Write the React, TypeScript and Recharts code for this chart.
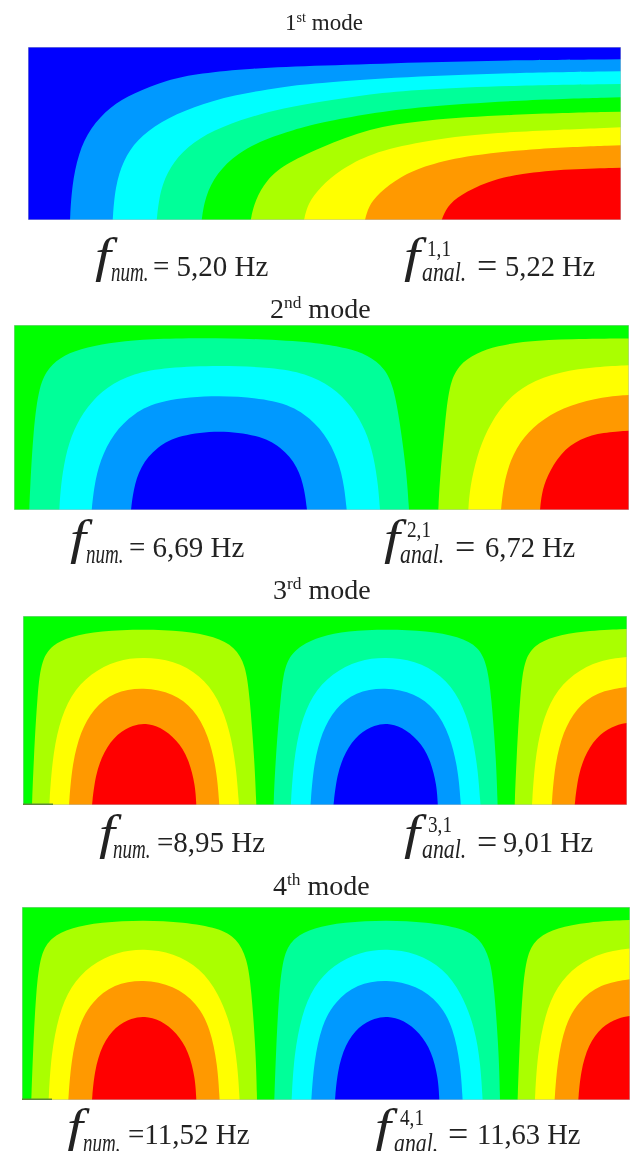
// App.tsx - first four vibration modes of a plate, drawn as filled contour bands

import React from 'react';
import { ComposedChart, Area, XAxis, YAxis, ReferenceArea } from 'recharts';

type Curve = [number, number][];

const BLUE = '#0000ff';
const SKY = '#0099ff';
const CYAN = '#00ffff';
const TEAL = '#00ff99';
const GREEN = '#00ff00';
const LIME = '#aaff00';
const YELLOW = '#ffff00';
const ORANGE = '#ff9900';
const RED = '#ff0000';

// Contour lines: [distance along plate, height above bottom edge]
const mode1Sky: Curve = [[42, 0], [43.7, 33.3], [50.3, 66.7], [62, 91.7], [82, 113.3], [105.3, 126.7], [138.7, 140], [172, 146.7], [222, 151.7], [292, 154.3], [392, 157.7], [492, 160], [593, 160.7]];
const mode1Cyan: Curve = [[84.7, 0], [87, 33], [95.3, 60], [108.7, 80], [132, 98.3], [165.3, 113.3], [205.3, 125], [255.3, 133.3], [292, 137.3], [392, 144], [492, 147.3], [593, 148.7]];
const mode1Teal: Curve = [[128.7, 0], [132, 30], [142, 53.3], [158.7, 73.3], [185.3, 90], [222, 103.3], [255.3, 111.7], [292, 118.3], [342, 126], [392, 130.7], [492, 134.7], [593, 136]];
const mode1Green: Curve = [[173.7, 0], [177, 23.3], [188.7, 46.7], [208.7, 66.7], [238.7, 81.7], [265.3, 90], [292, 97.3], [342, 106.7], [392, 113.3], [492, 120], [593, 122.7]];
const mode1Lime: Curve = [[222.7, 0], [227, 20], [238.7, 40], [255.3, 55], [292, 72.5], [342, 91.7], [392, 100], [492, 106], [593, 108.3]];
const mode1Yellow: Curve = [[276, 0], [280, 16.7], [292, 33], [312, 50], [342, 66.7], [392, 78.3], [458.7, 87.7], [593, 92.7]];
const mode1Orange: Curve = [[337, 0], [340.3, 13.3], [350.3, 26.7], [372, 43.3], [398.7, 55], [442, 65], [508.7, 71.7], [593, 74.7]];
const mode1Red: Curve = [[413.7, 0], [418.7, 13.3], [432, 25], [458.7, 38.3], [492, 46.7], [542, 51], [593, 52.3]];

const mode2Teal: Curve = [[15.3, 0], [16, 20], [19.3, 80], [25, 125], [35, 143], [49.3, 155], [72.7, 163], [102.7, 168], [136, 171], [186, 172], [252.7, 171], [306, 167], [332.7, 162], [354, 155], [371, 142], [380, 122], [386, 86.7], [392.7, 36.7], [395, 0]];
const mode2Cyan: Curve = [[45.3, 0], [46.7, 23.3], [51, 53.3], [59.3, 80], [72.7, 103.3], [92.7, 123.3], [119.3, 136.7], [152.7, 142.7], [205, 144.7], [258.3, 142.7], [291.7, 136.7], [318.3, 123.3], [338.3, 103.3], [351.7, 80], [360, 53.3], [364.3, 23.3], [366, 0]];
const mode2Sky: Curve = [[77.7, 0], [80, 23.3], [86, 50], [99.3, 76.7], [119.3, 96.7], [146, 110], [205, 115.5], [264, 110], [291, 96.7], [311, 76.7], [324.4, 50], [330.4, 23.3], [332.7, 0]];
const mode2Blue: Curve = [[117, 0], [119.3, 20], [126, 43.3], [142.7, 63.3], [166, 75], [205, 80], [244, 75], [267.3, 63.3], [284, 43.3], [290.7, 20], [293, 0]];
const mode2Lime: Curve = [[424.3, 0], [426, 33.3], [431, 86.7], [435, 124], [444, 145], [462.7, 157], [482.7, 164], [512.7, 169], [556, 171], [615, 171.5]];
const mode2Yellow: Curve = [[454.3, 0], [456, 23.3], [462.7, 53.3], [472.7, 80], [489.3, 106.7], [512.7, 126.7], [546, 138.3], [582.7, 143.3], [615, 144.7]];
const mode2Orange: Curve = [[487, 0], [489.3, 23.3], [496, 50], [509.3, 73.3], [529.3, 91.7], [556, 105], [589.3, 113.3], [615, 115]];
const mode2Red: Curve = [[526, 0], [527.7, 16.7], [532.7, 33.3], [546, 56.7], [566, 71.7], [589.3, 77.7], [615, 79.3]];

const mode3Lime: Curve = [[9, 0], [10.6, 43.3], [14.5, 113.3], [18.5, 145], [29, 160], [47.3, 168.5], [77.3, 174], [120.6, 176], [160.6, 174], [192, 168.5], [212, 158], [222.5, 140], [226.6, 110], [231.6, 43.3], [233.3, 0]];
const mode3Yellow: Curve = [[26.3, 0], [29, 43.3], [35.6, 80], [47.3, 110], [67.3, 131.7], [94, 145], [120.6, 148], [150.6, 144.5], [177.3, 130], [195.6, 106.7], [207.3, 73.3], [213.3, 36.7], [216, 0]];
const mode3Orange: Curve = [[46, 0], [49, 40], [57.3, 73.3], [70.6, 96.7], [90.6, 113.3], [120.6, 118], [150.6, 111.7], [170.6, 96.7], [185.6, 70], [194, 33.3], [196.3, 0]];
const mode3Red: Curve = [[69, 0], [72.3, 30], [80.6, 53.3], [94, 71.7], [110.6, 80], [122.3, 82], [137.3, 78.3], [154, 65], [165.6, 46.7], [172.3, 20], [173.3, 0]];
const mode3Teal: Curve = [[250.6, 0], [252.3, 43.3], [258, 113.3], [262.5, 145], [278, 160], [297.3, 168.5], [324, 174], [364, 176], [404, 174], [436, 168.5], [456, 158], [464, 140], [468.3, 110], [473.3, 43.3], [474.6, 0]];
const mode3Cyan: Curve = [[267.8, 0], [270.5, 43.3], [277.1, 80], [288.8, 110], [308.8, 131.7], [335.5, 145], [362.1, 148], [392.1, 144.5], [418.8, 130], [437.1, 106.7], [448.8, 73.3], [454.8, 36.7], [457.5, 0]];
const mode3Sky: Curve = [[287.5, 0], [290.5, 40], [298.8, 73.3], [312.1, 96.7], [332.1, 113.3], [362.1, 118], [392.1, 111.7], [412.1, 96.7], [427.1, 70], [435.5, 33.3], [437.8, 0]];
const mode3Blue: Curve = [[310.5, 0], [313.8, 30], [322.1, 53.3], [335.5, 71.7], [352.1, 80], [363.8, 82], [378.8, 78.3], [395.5, 65], [407.1, 46.7], [413.8, 20], [414.8, 0]];
const mode3LimeRight: Curve = [[491.7, 0], [493.3, 43.3], [497.3, 113.3], [501.3, 145], [511.5, 160], [530, 168.5], [560, 174], [604, 176]];
const mode3YellowRight: Curve = [[509, 0], [511.7, 43.3], [518.3, 80], [530, 110], [550, 131.7], [576.7, 145], [604, 148]];
const mode3OrangeRight: Curve = [[528.7, 0], [531.7, 40], [540, 73.3], [553.3, 96.7], [573.3, 113.3], [604, 118]];
const mode3RedRight: Curve = [[551.7, 0], [555, 30], [563.3, 53.3], [576.7, 71.7], [593.3, 80], [604, 82]];

const mode4Lime: Curve = [[9.3, 0], [11, 48.6], [14, 108.6], [18.5, 147], [29.5, 163], [48.3, 172], [78.3, 178], [121.6, 180], [161.6, 178], [197, 172], [215, 161.5], [225, 142], [229.3, 112], [234, 45.3], [235, 0]];
const mode4Yellow: Curve = [[26.6, 0], [29, 45.3], [36.6, 85.3], [48.3, 113.6], [68.3, 135.3], [95, 148], [121.6, 151.5], [151.6, 147], [178.3, 132], [196.6, 107], [210, 72], [215.6, 35.3], [217.6, 0]];
const mode4Orange: Curve = [[46.3, 0], [49, 38.6], [56.6, 75.3], [70, 98.6], [91.6, 116], [121.6, 120.8], [151.6, 114.6], [175, 97], [188.3, 72], [195.6, 35.3], [197.6, 0]];
const mode4Red: Curve = [[70, 0], [72.3, 28.6], [80, 55.3], [93.3, 73.6], [110, 82], [122.3, 84], [138.3, 80.3], [155, 67], [166.6, 48.6], [173.3, 22], [174.3, 0]];
const mode4Teal: Curve = [[252.3, 0], [254, 48.6], [257, 108.6], [261.5, 147], [272.5, 163], [291.3, 172], [321.3, 178], [364.6, 180], [404.6, 178], [440, 172], [458, 161.5], [468, 142], [472.3, 112], [477, 45.3], [478, 0]];
const mode4Cyan: Curve = [[269.6, 0], [272, 45.3], [279.6, 85.3], [291.3, 113.6], [311.3, 135.3], [338, 148], [364.6, 151.5], [394.6, 147], [421.3, 132], [439.6, 107], [453, 72], [458.6, 35.3], [460.6, 0]];
const mode4Sky: Curve = [[289.3, 0], [292, 38.6], [299.6, 75.3], [313, 98.6], [334.6, 116], [364.6, 120.8], [394.6, 114.6], [418, 97], [431.3, 72], [438.6, 35.3], [440.6, 0]];
const mode4Blue: Curve = [[313, 0], [315.3, 28.6], [323, 55.3], [336.3, 73.6], [353, 82], [365.3, 84], [381.3, 80.3], [398, 67], [409.6, 48.6], [416.3, 22], [417.3, 0]];
const mode4LimeRight: Curve = [[495.6, 0], [497.3, 48.6], [500.3, 108.6], [504.8, 147], [515.8, 163], [534.6, 172], [564.6, 178], [608, 180]];
const mode4YellowRight: Curve = [[512.9, 0], [515.3, 45.3], [522.9, 85.3], [534.6, 113.6], [554.6, 135.3], [581.3, 148], [608, 151.5]];
const mode4OrangeRight: Curve = [[532.6, 0], [535.3, 38.6], [542.9, 75.3], [556.3, 98.6], [577.9, 116], [608, 120.8]];
const mode4RedRight: Curve = [[556.3, 0], [558.6, 28.6], [566.3, 55.3], [579.6, 73.6], [596.3, 82], [608, 84]];

const modeOrdinals = ['1', '2', '3', '4'];
const modeSuffixes = ['st', 'nd', 'rd', 'th'];
const numericValues = ['= 5,20 Hz', '= 6,69 Hz', '=8,95 Hz', '=11,52 Hz'];
const analyticValues = ['5,22 Hz', '6,72 Hz', '9,01 Hz', '11,63 Hz'];
const analyticIndices = ['1,1', '2,1', '3,1', '4,1'];

// Painted in order, each band over the one before
const panels = [
  { left: 28, top: 47, width: 593, height: 173, base: BLUE, edgeMark: 0, bands: [[SKY, mode1Sky], [CYAN, mode1Cyan], [TEAL, mode1Teal], [GREEN, mode1Green], [LIME, mode1Lime], [YELLOW, mode1Yellow], [ORANGE, mode1Orange], [RED, mode1Red]] },
  { left: 14, top: 325, width: 615, height: 185, base: GREEN, edgeMark: 0, bands: [[TEAL, mode2Teal], [CYAN, mode2Cyan], [SKY, mode2Sky], [BLUE, mode2Blue], [LIME, mode2Lime], [YELLOW, mode2Yellow], [ORANGE, mode2Orange], [RED, mode2Red]] },
  { left: 23, top: 616, width: 604, height: 189, base: GREEN, edgeMark: 30, bands: [[LIME, mode3Lime], [YELLOW, mode3Yellow], [ORANGE, mode3Orange], [RED, mode3Red], [TEAL, mode3Teal], [CYAN, mode3Cyan], [SKY, mode3Sky], [BLUE, mode3Blue], [LIME, mode3LimeRight], [YELLOW, mode3YellowRight], [ORANGE, mode3OrangeRight], [RED, mode3RedRight]] },
  { left: 22, top: 907, width: 608, height: 193, base: GREEN, edgeMark: 30, bands: [[LIME, mode4Lime], [YELLOW, mode4Yellow], [ORANGE, mode4Orange], [RED, mode4Red], [TEAL, mode4Teal], [CYAN, mode4Cyan], [SKY, mode4Sky], [BLUE, mode4Blue], [LIME, mode4LimeRight], [YELLOW, mode4YellowRight], [ORANGE, mode4OrangeRight], [RED, mode4RedRight]] }
] as { left: number; top: number; width: number; height: number; base: string; edgeMark: number; bands: [string, Curve][] }[];

// Text placement on the page, one row per mode
const textRows = [
  { titleX: 285, titleY: 30, titleSize: 23, numF: 95, numSub: 111, numEq: 153, fY: 272, subY: 281, eqY: 276, anF: 404, anSup: 427, anSub: 422, supY: 256, anEq: 477, anVal: 505 },
  { titleX: 270, titleY: 318, titleSize: 28, numF: 70, numSub: 86, numEq: 129, fY: 554, subY: 563, eqY: 557, anF: 384, anSup: 407, anSub: 400, supY: 537, anEq: 455, anVal: 485 },
  { titleX: 273, titleY: 599, titleSize: 28, numF: 99, numSub: 113, numEq: 157, fY: 849, subY: 858, eqY: 852, anF: 404, anSup: 428, anSub: 422, supY: 832, anEq: 477, anVal: 503 },
  { titleX: 273, titleY: 895, titleSize: 28, numF: 67, numSub: 83, numEq: 128, fY: 1143, subY: 1152, eqY: 1144, anF: 375, anSup: 400, anSub: 394, supY: 1125, anEq: 448, anVal: 477 }
];

const SERIF = '"Liberation Serif", serif';
const INK = '#222222';

const ContourPanel = ({ left, top, width, height, base, edgeMark, bands }: (typeof panels)[number]) => (
  <div style={{ position: 'absolute', left, top, width, height }}>
    <ComposedChart width={width} height={height} margin={{ top: 0, right: 0, bottom: 0, left: 0 }}>
      <XAxis type="number" dataKey="x" domain={[0, width]} hide allowDataOverflow />
      <YAxis type="number" domain={[0, height]} hide allowDataOverflow />
      <ReferenceArea x1={0} x2={width} y1={0} y2={height} fill={base} fillOpacity={1} stroke="none" />
      {bands.map(([color, curve], i) => (
        <Area
          key={i}
          data={curve.map(([x, y]) => ({ x, y }))}
          dataKey="y"
          type="basis"
          fill={color}
          fillOpacity={1}
          stroke="none"
          dot={false}
          activeDot={false}
          isAnimationActive={false}
        />
      ))}
      <ReferenceArea x1={0} x2={width} y1={0} y2={height} fill="none" stroke="#b4bcc0" strokeWidth={1} />
      {edgeMark > 0 && (
        <ReferenceArea x1={0} x2={edgeMark} y1={0} y2={1.5} fill="#5c8a3a" fillOpacity={1} stroke="none" />
      )}
    </ComposedChart>
  </div>
);

const App = () => (
  <div style={{ position: 'absolute', left: 0, top: 0, width: 630, height: 1151, overflow: 'hidden', background: '#fff' }}>
    {panels.map((p, i) => (
      <ContourPanel key={i} {...p} />
    ))}
    <svg width={630} height={1151} style={{ position: 'absolute', left: 0, top: 0, filter: 'blur(0.4px)' }} fontFamily={SERIF} fill={INK}>
      {textRows.map((r, i) => (
        <g key={i}>
          <text x={r.titleX} y={r.titleY} fontSize={r.titleSize}>
            {modeOrdinals[i]}
            <tspan fontSize={r.titleSize * 0.62} dy={-r.titleSize * 0.36}>{modeSuffixes[i]}</tspan>
            <tspan dy={r.titleSize * 0.36}> mode</tspan>
          </text>

          <text transform={`translate(${r.numF} ${r.fY}) scale(1.2 1)`} fontSize={48} fontStyle="italic">f</text>
          <text transform={`translate(${r.numSub} ${r.subY}) scale(0.68 1)`} fontSize={28} fontStyle="italic">num.</text>
          <text x={r.numEq} y={r.eqY} fontSize={29}>{numericValues[i]}</text>

          <text transform={`translate(${r.anF} ${r.fY}) scale(1.2 1)`} fontSize={48} fontStyle="italic">f</text>
          <text transform={`translate(${r.anSup} ${r.supY}) scale(0.8 1)`} fontSize={24}>{analyticIndices[i]}</text>
          <text transform={`translate(${r.anSub} ${r.subY}) scale(0.78 1)`} fontSize={28} fontStyle="italic">anal.</text>
          <text x={r.anEq} y={r.eqY + 2} fontSize={36}>=</text>
          <text x={r.anVal} y={r.eqY} fontSize={28.5}>{analyticValues[i]}</text>
        </g>
      ))}
    </svg>
  </div>
);

export default App;
